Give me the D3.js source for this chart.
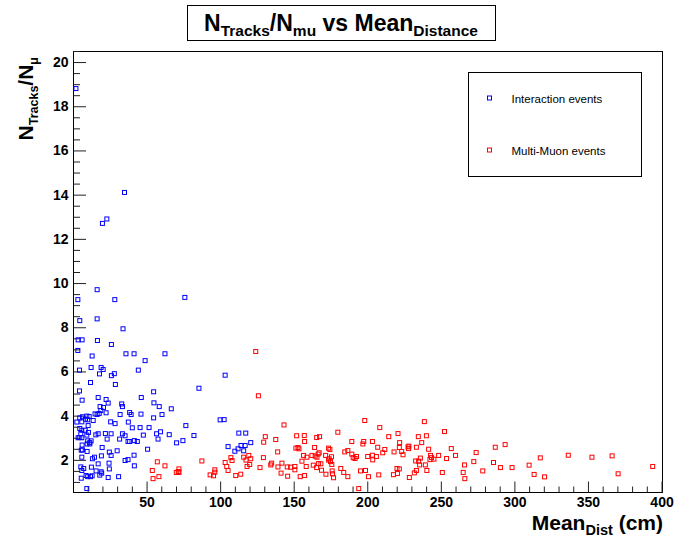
<!DOCTYPE html>
<html>
<head>
<meta charset="utf-8">
<script src="https://cdn.jsdelivr.net/npm/d3@7"></script>
<style>
  body { margin: 0; background: #fff; }
  text { font-family: "Liberation Sans", Arial, sans-serif; }
</style>
</head>
<body>
<script>
// Interaction events (blue): mean distance (cm) and tracks / muons
const blueDist = [2, 35, 20, 23, 16.4, 28.4, 3.3, 76, 4.6, 16.4, 34, 3.5, 6.2, 16.6, 26.1, 3.3, 13, 36, 41.5, 62.5,
    49, 4.4, 12.3, 19.1, 20.5, 18, 26.1, 28.1, 44.4, 11.9, 28.8, 4.4, 54.8, 85.6, 6.2, 17.1, 22.5, 23.9,
    46.4, 18.4, 20.7, 18.9, 33.1, 33.6, 55, 58.6, 66.8, 15, 16.4, 17.8, 22.5, 32, 38.5, 39.5, 46.2, 60.5,
    54.8, 9.4, 11, 4.6, 6.4, 8.5, 2.6, 6, 10, 13.7, 25.6, 28.6, 37.6, 45.6, 40.3, 51.7, 76.7, 10.3, 8.3,
    6, 4.6, 10.5, 5.3, 9.4, 17.1, 15.5, 22, 25.9, 33.6, 35.4, 47.8, 56.8, 59.5, 65.4, 82.2, 3.5, 4.6, 6,
    23.2, 31.7, 37.4, 38.5, 41.7, 43.7, 57.8, 74.7, 70.4, 10, 11.4, 12.3, 9.6, 11.4, 6.2, 5.6, 6.4, 19.8,
    9.6, 24.7, 30, 50.7, 6, 14.6, 19.3, 25.9, 41.5, 13.2, 35.4, 37.4, 17.1, 24.5, 5.3, 12.5, 41.7, 24.7,
    7.3, 6, 15.7, 19.1, 19.5, 18.2, 8.9, 10, 11.9, 13, 5.6, 23.9, 31, 9.4,
    103.4, 100, 102.7, 112.7, 117.4, 120.8, 105.4, 114.2, 117, 112.2, 110, 116];
const blueRatio = [18.8, 14.1, 12.7, 12.9, 9.7, 9.25, 9.25, 9.35, 8.3, 8.38, 7.93, 7.43, 7.43, 7.4, 7.22, 6.95, 6.7, 6.8, 6.8, 6.8,
    6.49, 6.06, 6.18, 6.18, 6.09, 5.89, 5.81, 5.9, 6.06, 5.5, 5.41, 5.12, 5.08, 5.24, 4.7, 4.82, 4.73, 4.57,
    4.82, 4.41, 4.37, 4.23, 4.53, 4.41, 4.58, 4.41, 4.31, 4.08, 4.05, 4.1, 4.13, 4.05, 4.14, 4.05, 4.07, 4.05,
    3.9, 3.98, 3.96, 3.9, 3.95, 3.84, 3.71, 3.72, 3.81, 3.78, 3.72, 3.64, 3.71, 3.46, 3.45, 3.46, 3.55, 3.55, 3.34,
    3.34, 3.42, 3.24, 3.19, 3.12, 3.18, 3.13, 3.19, 3.18, 3.18, 3.09, 3.12, 3.18, 3.27, 3.14, 3.1, 3.0, 3.01, 3.0,
    2.94, 2.94, 2.83, 2.83, 2.87, 2.83, 2.94, 2.87, 2.77, 2.86, 2.78, 2.86, 2.72, 2.72, 2.67, 2.44, 2.45, 2.56,
    2.38, 2.35, 2.41, 2.48, 2.12, 2.12, 2.18, 2.2, 2.21, 2.05, 1.97, 2.01, 1.82, 1.85, 1.68, 1.67, 1.73, 1.59,
    1.61, 1.52, 1.5, 1.46, 1.4, 1.31, 1.29, 1.24, 1.24, 1.28, 1.17, 1.2, 1.24, 0.7,
    5.83, 3.81, 3.82, 3.21, 3.21, 2.78, 2.6, 2.65, 2.65, 2.5, 2.39, 2.41];

// Multi-muon events (red)
const redDist = [57.3, 62.5, 53.9, 58.4, 54.4, 72, 71.5, 70.2, 72, 87.6, 124.2, 126, 143.4,
    96.4, 96.4, 93.2, 95.5, 103.4, 104.5, 105.4, 107.3, 108.1, 110.6, 114, 116, 117.6, 119.5, 120.8, 118.3,
    120.1, 127.1, 129.4, 129.6, 130.7, 137.8, 139.1, 134.4, 135, 139.3, 142, 141.4, 145.6, 147.9, 150.8,
    145.9, 151.5, 152.9, 153.6, 152, 157.2, 157.4, 155.6, 156.7, 158.5, 150.8, 154.4, 157.4, 159, 162.4,
    164.6, 165.8, 166.6, 167.3, 165.6, 167.6, 164.2, 163.3, 165.6, 166.9, 168.5, 168.9, 171.9, 171.7, 173.7,
    174.1, 175, 173.7, 174.6, 175.9, 176.1, 176.4, 177.1, 175.7, 180,
    182, 184, 186.8, 184.7, 186.8, 189.5, 189.5, 190.4, 191.7, 192.7, 194.2, 195.4, 197, 197.6, 198.3, 198.8,
    200.3, 200.8, 203.5, 203.5, 203.7, 206.2, 207.1, 207.8, 208.5, 210.5, 211.9, 214.6, 217.8, 218.2, 220.2,
    221.8, 220.5, 220.9, 221.8, 222, 223.4, 224.3, 227.7, 228.3, 228.1, 228.6, 232, 233.4, 232.9, 234.9,
    236.1, 233.4, 234.7, 235.6, 237, 238.8, 239.5, 240.2, 240.5, 241.7, 243, 243.7, 242.6, 245.3, 248.5,
    251, 252.5, 253.9, 257.1, 260, 265.2, 266.1, 266.3, 272.4,
    274, 278.5, 287, 285.8, 290.5, 293.7, 298.4, 310, 313.4, 317.6, 320.5, 336.6, 352.7, 366.4, 370.5, 394];
const redRatio = [1.91, 1.73, 1.52, 1.24, 1.15, 1.59, 1.47, 1.43, 1.43, 1.95, 6.9, 4.9, 3.58,
    1.55, 1.44, 1.32, 1.28, 1.88, 1.7, 1.52, 2.1, 1.97, 1.29, 1.35, 2.12, 1.99, 2.2, 2.05, 1.7,
    1.79, 1.65, 2.1, 2.8, 3.05, 2.92, 2.36, 1.77, 1.85, 1.68, 1.85, 1.4, 1.68, 1.67, 1.7,
    1.26, 2.53, 2.56, 2.5, 3.09, 3.1, 2.83, 1.94, 2.2, 1.7, 1.55, 1.24, 1.29, 2.12, 2.2,
    2.17, 2.12, 2.26, 2.32, 3.01, 3.05, 2.56, 1.76, 1.65, 1.83, 1.82, 1.53, 1.35, 2.2, 1.99,
    2.05, 1.92, 2.53, 2.47, 1.79, 1.5, 1.37, 1.19, 2.14, 3.25,
    1.61, 1.43, 1.24, 2.36, 2.42, 2.83, 2.26, 2.1, 2.06, 2.15, 0.7, 1.5, 2.72, 2.83, 3.78, 1.52,
    2.15, 1.24, 2.83, 2.21, 2.0, 2.15, 2.57, 1.32, 3.46, 2.32, 2.47, 3.05, 1.33, 2.36, 1.61,
    1.59, 1.38, 3.19, 2.56, 2.78, 2.38, 2.23, 2.59, 2.62, 2.51, 1.2, 1.41, 1.52, 1.95, 1.94,
    2.08, 2.57, 3.05, 1.77, 2.78, 3.73, 1.77, 3.09, 1.52, 2.48, 2.2, 2.1, 2.01, 2.03, 2.2,
    1.43, 3.28, 2.06, 2.51, 2.2, 1.43, 1.77, 1.15, 1.92,
    2.33, 1.5, 2.57, 1.88, 1.65, 2.69, 1.65, 1.76, 1.34, 2.09, 1.23, 2.21, 2.12, 2.18, 1.37, 1.7];

const xTicks = [50, 100, 150, 200, 250, 300, 350, 400];
const yTicks = [2, 4, 6, 8, 10, 12, 14, 16, 18, 20];
const legendLabels = ["Interaction events", "Multi-Muon events"];
const seriesColors = ["#0000ff", "#ff0000"];

const width = 676, height = 540;
const frame = { left: 73, right: 663, top: 51, bottom: 493 };

const svg = d3.select("body").append("svg")
    .attr("width", width)
    .attr("height", height);

svg.append("rect").attr("width", width).attr("height", height).attr("fill", "#fff");

const x = d3.scaleLinear().domain([0, 401]).range([frame.left, frame.right]);
const y = d3.scaleLinear().domain([0.5, 20.5]).range([frame.bottom, frame.top]);

// frame
svg.append("rect")
    .attr("x", frame.left + 0.5).attr("y", frame.top + 0.5)
    .attr("width", frame.right - frame.left - 1).attr("height", frame.bottom - frame.top - 1)
    .attr("fill", "none").attr("stroke", "#000");

// minor ticks
const xMinor = d3.range(10, 401, 10).filter(v => v % 50 !== 0);
const yMinor = d3.range(1, 20.6, 0.5).filter(v => v % 2 !== 0);

svg.append("g")
    .attr("transform", `translate(0,${frame.bottom - 0.5})`)
    .call(d3.axisBottom(x).tickValues(xMinor).tickSize(-6).tickFormat(""))
    .call(g => g.select(".domain").remove());
svg.append("g")
    .attr("transform", `translate(${frame.left + 0.5},0)`)
    .call(d3.axisLeft(y).tickValues(yMinor).tickSize(-6.5).tickFormat(""))
    .call(g => g.select(".domain").remove());

// major ticks + labels
const xAxisG = svg.append("g")
    .attr("transform", `translate(0,${frame.bottom - 0.5})`)
    .call(d3.axisBottom(x).tickValues(xTicks).tickSize(-11).tickPadding(5));
const yAxisG = svg.append("g")
    .attr("transform", `translate(${frame.left + 0.5},0)`)
    .call(d3.axisLeft(y).tickValues(yTicks).tickSize(-12.5).tickPadding(5));

[xAxisG, yAxisG].forEach(g => {
    g.select(".domain").remove();
    g.selectAll("text")
        .attr("font-family", "Liberation Sans, Arial, sans-serif")
        .attr("font-size", 14)
        .attr("font-weight", "bold")
        .attr("fill", "#000");
});
svg.selectAll(".tick line").attr("stroke", "#222");

// markers
function drawSeries(xs, ys, color) {
    svg.append("g")
        .selectAll("rect")
        .data(xs.map((d, i) => [d, ys[i]]))
        .join("rect")
        .attr("x", d => x(d[0]) - 2)
        .attr("y", d => y(d[1]) - 2)
        .attr("width", 4)
        .attr("height", 4)
        .attr("fill", "none")
        .attr("stroke", color)
        .attr("stroke-width", 1);
}
drawSeries(blueDist, blueRatio, seriesColors[0]);
drawSeries(redDist, redRatio, seriesColors[1]);

// text with subscripts
function richText(sel, parts, size, subSize, shift) {
    let down = false;
    parts.forEach(([t, sub]) => {
        const ts = sel.append("tspan").text(t).attr("font-size", sub ? subSize : size);
        if (sub && !down) { ts.attr("dy", shift); down = true; }
        else if (!sub && down) { ts.attr("dy", -shift); down = false; }
    });
}

// title box
svg.append("rect")
    .attr("x", 187.5).attr("y", 5.5).attr("width", 308).attr("height", 35)
    .attr("fill", "#fff").attr("stroke", "#000");
const title = svg.append("text")
    .attr("x", 341).attr("y", 31)
    .attr("text-anchor", "middle").attr("font-weight", "bold");
richText(title, [["N"], ["Tracks", 1], ["/N"], ["mu", 1], [" vs Mean"], ["Distance", 1]], 23, 15.5, 5);

// y axis title
const yTitle = svg.append("text")
    .attr("transform", "translate(33,57) rotate(-90)")
    .attr("text-anchor", "end").attr("font-weight", "bold");
richText(yTitle, [["N"], ["Tracks", 1], ["/N"], ["\u03bc", 1]], 21, 12.5, 4.5);

// x axis title
const xTitle = svg.append("text")
    .attr("x", frame.right).attr("y", 530)
    .attr("text-anchor", "end").attr("font-weight", "bold");
richText(xTitle, [["Mean"], ["Dist", 1], [" (cm)"]], 21, 14.5, 5);

// legend
const legend = svg.append("g");
legend.append("rect")
    .attr("x", 468.5).attr("y", 72.5).attr("width", 173).attr("height", 104)
    .attr("fill", "#fff").attr("stroke", "#000");
legendLabels.forEach((label, i) => {
    const cy = 98 + i * 52;
    legend.append("rect")
        .attr("x", 487.5).attr("y", cy - 2).attr("width", 4).attr("height", 4)
        .attr("fill", "none").attr("stroke", seriesColors[i]);
    legend.append("text")
        .attr("x", 511.5).attr("y", cy + 4.5)
        .attr("font-size", 11.5).attr("fill", "#000")
        .text(label);
});
</script>
</body>
</html>
